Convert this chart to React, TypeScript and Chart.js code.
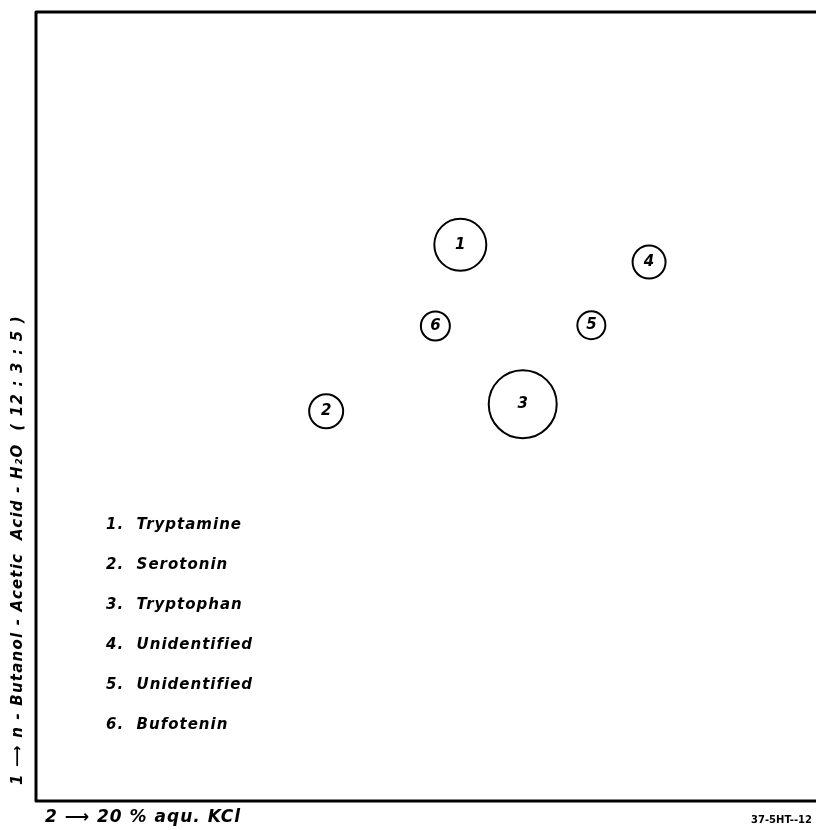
import React, { useEffect, useRef } from "react";
import { Chart, registerables } from "chart.js";
Chart.register(...registerables);

const spotLabels = ["1", "2", "3", "4", "5", "6"];
const spotX = [54.4, 37.2, 62.4, 78.6, 71.2, 51.2];
const spotY = [70.5, 49.4, 50.3, 68.3, 60.3, 60.2];
const spotR = [26, 17, 34, 16.5, 14, 14.5];
const compounds = ["Tryptamine", "Serotonin", "Tryptophan", "Unidentified", "Unidentified", "Bufotenin"];
const yTitle = "1 \u27F6 n - Butanol - Acetic  Acid - H\u2082O  ( 12 : 3 : 5 )";
const xTitle = "2 \u27F6 20 % aqu. KCl";
const plateCode = "37-5HT--12";

const FONT = "'DejaVu Sans'";

const overlay = {
  id: "overlay",
  afterDatasetsDraw(chart: any) {
    const ctx = chart.ctx;
    const a = chart.chartArea;
    ctx.save();
    // frame
    ctx.strokeStyle = "#000";
    ctx.lineWidth = 3;
    ctx.lineJoin = "round";
    ctx.beginPath();
    ctx.moveTo(chart.width, a.top);
    ctx.lineTo(a.left, a.top);
    ctx.lineTo(a.left, a.bottom);
    ctx.lineTo(chart.width, a.bottom);
    ctx.stroke();

    // spot labels
    const meta = chart.getDatasetMeta(0);
    ctx.fillStyle = "#000";
    ctx.textAlign = "center";
    ctx.textBaseline = "middle";
    ctx.font = `italic bold 15px ${FONT}`;
    meta.data.forEach((el: any, i: number) => {
      ctx.fillText(spotLabels[i], el.x, el.y);
    });

    // compound list
    ctx.textAlign = "left";
    ctx.font = `italic bold 15px ${FONT}`;
    (ctx as any).letterSpacing = "1px";
    compounds.forEach((c, i) => {
      ctx.fillText(`${spotLabels[i]}.  ${c}`, a.left + 70, 525 + i * 40);
    });

    // bottom title
    ctx.font = `italic bold 17px ${FONT}`;
    ctx.fillText(xTitle, a.left + 9, a.bottom + 17);

    // plate code
    (ctx as any).letterSpacing = "0px";
    ctx.font = `bold 10px ${FONT}`;
    ctx.textAlign = "right";
    ctx.fillText(plateCode, chart.width - 4, a.bottom + 19);

    // vertical title
    ctx.translate(a.left - 18, a.bottom - 16);
    ctx.rotate(-Math.PI / 2);
    ctx.textAlign = "left";
    ctx.font = `italic bold 15px ${FONT}`;
    (ctx as any).letterSpacing = "1.2px";
    ctx.fillText(yTitle, 0, 0);
    ctx.restore();
  },
};

export default function App() {
  const ref = useRef<HTMLCanvasElement>(null);
  useEffect(() => {
    document.body.style.margin = "0";
    const chart = new Chart(ref.current!, {
      type: "bubble",
      data: {
        datasets: [
          {
            data: spotX.map((x, i) => ({ x, y: spotY[i], r: spotR[i] })),
            borderColor: "#000",
            borderWidth: 2,
            backgroundColor: "rgba(0,0,0,0)",
            hoverRadius: 0,
          },
        ],
      },
      options: {
        responsive: false,
        animation: false,
        devicePixelRatio: 1,
        layout: { autoPadding: false, padding: { left: 36, top: 12, right: 0, bottom: 29 } },
        plugins: { legend: { display: false }, tooltip: { enabled: false } },
        events: [],
        scales: {
          x: { display: false, min: 0, max: 100 },
          y: { display: false, min: 0, max: 100 },
        },
      },
      plugins: [overlay],
    });
    return () => chart.destroy();
  }, []);
  return <canvas ref={ref} width={816} height={830} style={{ display: "block" }} />;
}
